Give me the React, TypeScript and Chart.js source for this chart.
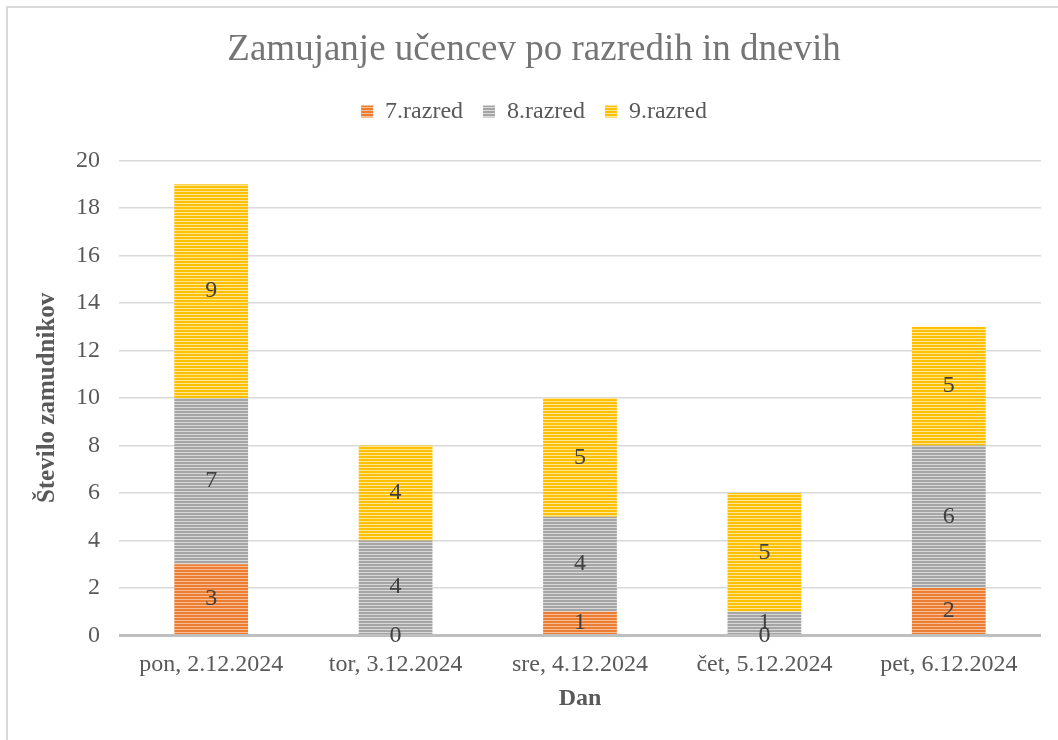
import React, { useEffect, useRef } from "react";
import { Chart, registerables } from "chart.js";

Chart.register(...registerables);

const categories = ["pon, 2.12.2024", "tor, 3.12.2024", "sre, 4.12.2024", "čet, 5.12.2024", "pet, 6.12.2024"];
const seriesNames = ["7.razred", "8.razred", "9.razred"];
const razred7 = [3, 0, 1, 0, 2];
const razred8 = [7, 4, 4, 1, 6];
const razred9 = [9, 4, 5, 5, 5];
const colors = ["#ED7D31", "#A5A5A5", "#FFC000"];
const lightColors = ["#F6BE98", "#D9D9D9", "#FFE699"];

const FONT = "'Liberation Serif', 'Times New Roman', serif";

function makePattern(color: string, light: string): CanvasPattern | string {
  const c = document.createElement("canvas");
  c.width = 4;
  c.height = 3;
  const g = c.getContext("2d");
  if (!g) return color;
  g.fillStyle = color;
  g.fillRect(0, 0, 4, 3);
  g.fillStyle = light;
  g.fillRect(0, 2, 4, 1);
  const p = g.createPattern(c, "repeat");
  return p || color;
}

const labelPlugin = {
  id: "segLabels",
  afterDatasetsDraw(chart: any) {
    const ctx = chart.ctx;
    ctx.save();
    ctx.font = `24px ${FONT}`;
    ctx.fillStyle = "#404040";
    ctx.textAlign = "center";
    ctx.textBaseline = "middle";
    chart.data.datasets.forEach((ds: any, di: number) => {
      const meta = chart.getDatasetMeta(di);
      meta.data.forEach((el: any, i: number) => {
        const v = ds.data[i];
        const y = (el.y + el.base) / 2;
        ctx.fillText(String(v), el.x, y);
      });
    });
    ctx.restore();
  },
};

const legendMargin = {
  id: "legendMargin",
  beforeInit(chart: any) {
    if (!chart.legend) return;
    const orig = chart.legend.fit;
    chart.legend.fit = function () {
      orig.bind(chart.legend)();
      this.height += 27;
    };
  },
};

export default function App() {
  const ref = useRef<HTMLCanvasElement>(null);
  useEffect(() => {
    if (!ref.current) return;
    const series = [razred7, razred8, razred9];
    const chart = new Chart(ref.current, {
      type: "bar",
      data: {
        labels: categories,
        datasets: series.map((d, i) => ({
          label: seriesNames[i],
          data: d,
          backgroundColor: makePattern(colors[i], lightColors[i]) as any,
          borderWidth: 0,
          categoryPercentage: 1,
          barPercentage: 0.4,
        })),
      },
      options: {
        animation: false,
        responsive: false,
        layout: { padding: { left: 27, right: 17, top: 14, bottom: 25 } },
        plugins: {
          title: {
            display: true,
            text: "Zamujanje učencev po razredih in dnevih",
            color: "#757575",
            font: { family: FONT, size: 37, weight: "normal" },
            padding: { top: 14, bottom: 7 },
          },
          legend: {
            display: true,
            position: "top",
            labels: {
              color: "#595959",
              font: { family: FONT, size: 24 },
              boxWidth: 12,
              boxHeight: 12,
              padding: 20,
            },
          },
          tooltip: { enabled: false },
        },
        scales: {
          x: {
            stacked: true,
            grid: { display: false },
            border: { display: false },
            ticks: { color: "#595959", font: { family: FONT, size: 24 }, padding: 7 },
            title: {
              display: true,
              text: "Dan",
              color: "#595959",
              font: { family: FONT, size: 24, weight: "bold" },
              padding: { top: -2, bottom: 2 },
            },
          },
          y: {
            stacked: true,
            min: 0,
            max: 20,
            ticks: { stepSize: 2, color: "#595959", font: { family: FONT, size: 24 }, padding: 19 },
            grid: {
              color: (c: any) => (c.tick && c.tick.value === 0 ? "#BFBFBF" : "#D9D9D9"),
              lineWidth: (c: any) => (c.tick && c.tick.value === 0 ? 3 : 1.5),
              drawTicks: false,
            },
            border: { display: false },
            title: {
              display: true,
              text: "Število zamudnikov",
              color: "#595959",
              font: { family: FONT, size: 25, weight: "bold" },
              padding: { top: 6, bottom: -6 },
            },
          },
        },
      },
      plugins: [labelPlugin, legendMargin],
    });
    return () => chart.destroy();
  }, []);
  return (
    <div style={{ position: "fixed", left: 0, top: 0, width: 1058, height: 740, background: "#fff", overflow: "hidden" }}>
      <div
        style={{
          position: "absolute",
          left: 6,
          top: 6,
          width: 1100,
          height: 800,
          border: "2px solid #D9D9D9",
          boxSizing: "border-box",
        }}
      />
      <canvas ref={ref} width={1058} height={740} style={{ position: "absolute", left: 0, top: 0 }} />
    </div>
  );
}
